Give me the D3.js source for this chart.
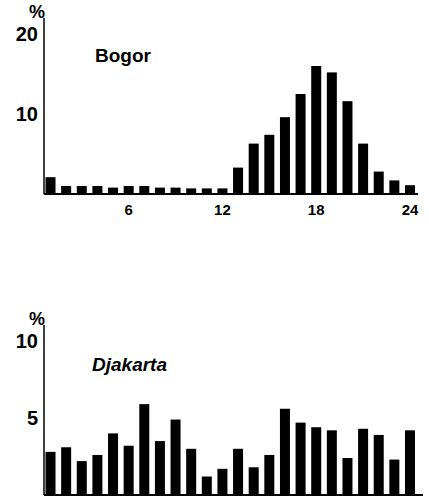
<!DOCTYPE html>
<html>
<head>
<meta charset="utf-8">
<script src="https://cdn.jsdelivr.net/npm/d3@7"></script>
<style>
  body { margin: 0; background: #fff; }
  svg text { font-family: "Liberation Sans", Arial, sans-serif; fill: #000; }
</style>
</head>
<body>
<svg id="chart"></svg>
<script>
// hour of day, 1..24
const hours = d3.range(1, 25);
const hourLabels = [6, 12, 18, 24];

// percentage of rain per hour
const bogorValues = [2.1, 1.0, 1.0, 1.0, 0.8, 1.0, 1.0, 0.8, 0.8, 0.7, 0.7, 0.7,
    3.3, 6.3, 7.4, 9.6, 12.5, 16.0, 15.2, 11.6, 6.3, 2.8, 1.7, 1.1];
const djakartaValues = [2.8, 3.1, 2.2, 2.6, 4.0, 3.2, 5.9, 3.5, 4.9, 3.0, 1.2, 1.7,
    3.0, 1.8, 2.6, 5.6, 4.7, 4.4, 4.2, 2.4, 4.3, 3.9, 2.3, 4.2];

const bogorTicks = [10, 20];
const djakartaTicks = [5, 10];

class HourBarChart {
    constructor(_config, _data) {
        this.config = {
            parent: _config.parent,
            top: _config.top,
            baseline: _config.baseline,
            yMax: _config.yMax,
            axisTop: _config.axisTop,
            ticks: _config.ticks,
            showXLabels: _config.showXLabels,
            title: _config.title,
            titleX: _config.titleX,
            titleY: _config.titleY,
            italic: _config.italic
        };
        this.data = _data;
        this.initVis();
    }

    initVis() {
        let vis = this;
        const c = vis.config;

        vis.xScale = d3.scaleBand()
            .domain(hours)
            .range([42.7, 417.8])
            .paddingInner(0.36)
            .paddingOuter(0.18);

        vis.yScale = d3.scaleLinear()
            .domain([0, c.yMax])
            .range([c.baseline, c.top]);

        vis.g = c.parent.append('g');

        vis.g.selectAll('rect')
            .data(vis.data)
            .join('rect')
            .attr('x', (d, i) => vis.xScale(hours[i]))
            .attr('width', vis.xScale.bandwidth())
            .attr('y', d => vis.yScale(d))
            .attr('height', d => c.baseline - vis.yScale(d))
            .attr('fill', '#000');

        // x axis
        const xAxis = d3.axisBottom(vis.xScale)
            .tickValues(c.showXLabels ? hourLabels : [])
            .tickSize(0)
            .tickPadding(10);
        const xg = vis.g.append('g')
            .attr('transform', `translate(0,${c.baseline})`)
            .call(xAxis);
        xg.select('.domain')
            .attr('d', `M44,0H${c.showXLabels ? 418 : 423}`)
            .attr('stroke', '#000')
            .attr('stroke-width', 2);
        xg.selectAll('text')
            .style('font-size', '15px')
            .style('font-weight', 'bold');

        // y axis
        const yAxis = d3.axisLeft(vis.yScale)
            .tickValues(c.ticks)
            .tickSize(0)
            .tickPadding(6);
        const yg = vis.g.append('g')
            .attr('transform', 'translate(44,0)')
            .call(yAxis);
        yg.select('.domain')
            .attr('d', `M0,${c.baseline}V${c.axisTop}`)
            .attr('stroke', '#000')
            .attr('stroke-width', 1.5);
        yg.selectAll('text')
            .style('font-size', '20px')
            .style('font-weight', 'bold');

        // unit label sits just above the top tick
        vis.g.append('text')
            .attr('x', 37)
            .attr('y', c.axisTop)
            .attr('text-anchor', 'middle')
            .style('font-size', '18px')
            .style('font-weight', 'bold')
            .text('%');

        vis.g.append('text')
            .attr('x', c.titleX)
            .attr('y', c.titleY)
            .style('font-size', '19px')
            .style('font-weight', 'bold')
            .style('font-style', c.italic ? 'italic' : 'normal')
            .text(c.title);
    }
}

const svg = d3.select('#chart')
    .attr('width', 429)
    .attr('height', 501);

new HourBarChart({
    parent: svg, top: 34, baseline: 194, yMax: 20, axisTop: 18,
    ticks: bogorTicks, showXLabels: true,
    title: 'Bogor', titleX: 95, titleY: 62, italic: false
}, bogorValues);

new HourBarChart({
    parent: svg, top: 341, baseline: 495, yMax: 10, axisTop: 325,
    ticks: djakartaTicks, showXLabels: false,
    title: 'Djakarta', titleX: 92, titleY: 371, italic: true
}, djakartaValues);
</script>
</body>
</html>
